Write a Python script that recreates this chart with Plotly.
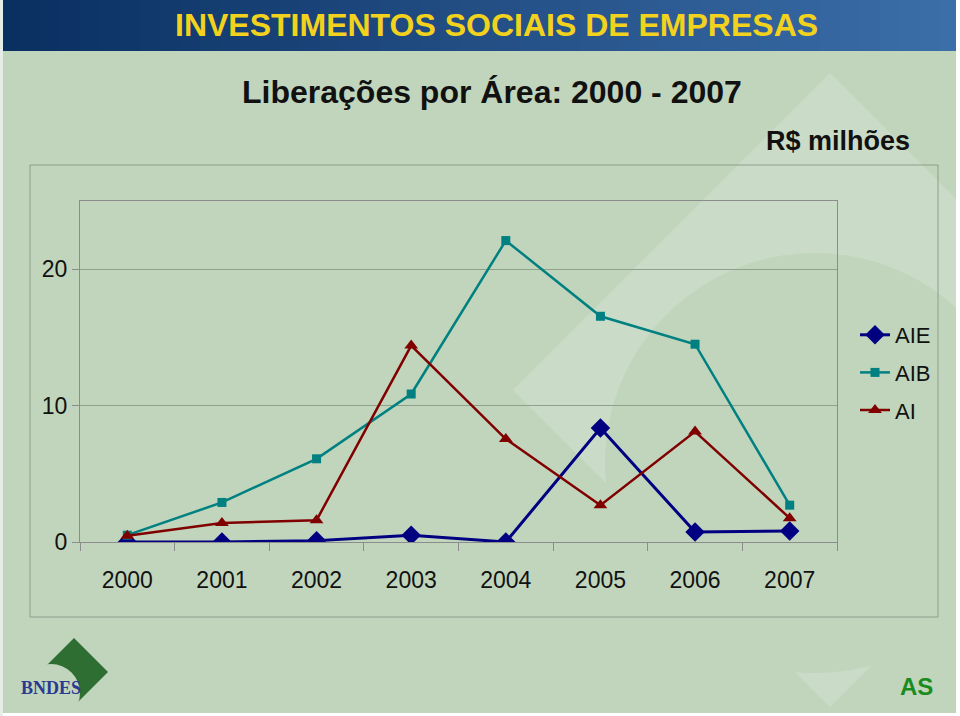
import plotly.graph_objects as go

years = ["2000", "2001", "2002", "2003", "2004", "2005", "2006", "2007"]
aie = [0.0, 0.0, 0.1, 0.5, 0.0, 8.35, 0.73, 0.8]
aib = [0.5, 2.9, 6.1, 10.85, 22.1, 16.55, 14.5, 2.7]
ai = [0.45, 1.4, 1.6, 14.4, 7.55, 2.7, 8.1, 1.75]
y_ticks = [0, 10, 20]

W, H = 960, 716
L, R, T, B = 80, 837, 201, 542  # plot area in pixels
BG = "#c0d5bc"
SANS = "Liberation Sans, Arial, sans-serif"

fig = go.Figure()
fig.add_trace(go.Scatter(x=years, y=aie, name="AIE", mode="lines+markers", legendgroup="a",
                         line=dict(color="#000080", width=3),
                         marker=dict(symbol="diamond", size=15, color="#000080")))
fig.add_trace(go.Scatter(x=years, y=aib, name="AIB", mode="lines+markers", legendgroup="b",
                         line=dict(color="#008080", width=2.5),
                         marker=dict(symbol="square", size=9, color="#008080")))
fig.add_trace(go.Scatter(x=years, y=ai, name="AI", mode="lines+markers", legendgroup="c",
                         line=dict(color="#800000", width=2.5),
                         marker=dict(symbol="triangle-up", size=12, color="#800000")))


def px(x):
    return (x - L) / (R - L)


def py(y):
    return (B - y) / (B - T)


shapes = []
# banner gradient
n = 48
c0 = (10, 48, 98)
c1 = (60, 110, 168)
for i in range(n):
    t = i / (n - 1)
    c = tuple(int(c0[k] + (c1[k] - c0[k]) * t) for k in range(3))
    shapes.append(dict(type="rect", xref="paper", yref="paper",
                       x0=px(W * i / n), x1=px(W * (i + 1) / n + 1), y0=py(51), y1=py(0),
                       fillcolor="rgb(%d,%d,%d)" % c, line=dict(width=0), layer="below"))

# watermark diamond minus circle
cx, cy, r = 830, 390, 317
shapes.append(dict(type="path", xref="paper", yref="paper",
                   path="M %f %f L %f %f L %f %f L %f %f Z" % (
                       px(cx), py(cy - r), px(cx + r), py(cy), px(cx), py(cy + r), px(cx - r), py(cy)),
                   fillcolor="rgba(255,255,255,0.17)", line=dict(width=0), layer="below"))
ccx, ccy, cr = 815, 463, 210
shapes.append(dict(type="circle", xref="paper", yref="paper",
                   x0=px(ccx - cr), x1=px(ccx + cr), y0=py(ccy + cr), y1=py(ccy - cr),
                   fillcolor=BG, line=dict(width=0), layer="below"))
# chart area box
shapes.append(dict(type="rect", xref="paper", yref="paper", x0=px(30), x1=px(938), y0=py(617), y1=py(165),
                   line=dict(color="#8e9e8b", width=1), fillcolor="rgba(0,0,0,0)", layer="below"))
# BNDES logo
lx, ly, lr = 74, 672, 34
shapes.append(dict(type="path", xref="paper", yref="paper",
                   path="M %f %f L %f %f L %f %f L %f %f Z" % (
                       px(lx), py(ly - lr), px(lx + lr), py(ly), px(lx), py(ly + lr), px(lx - lr), py(ly)),
                   fillcolor="#2f6e33", line=dict(width=0), layer="below"))
shapes.append(dict(type="circle", xref="paper", yref="paper",
                   x0=px(51 - 29), x1=px(51 + 29), y0=py(693 + 29), y1=py(693 - 29),
                   fillcolor=BG, line=dict(width=0), layer="below"))
# white slide border strips
shapes.append(dict(type="rect", xref="paper", yref="paper", x0=px(956), x1=px(W), y0=py(H), y1=py(0),
                   fillcolor="white", line=dict(width=0), layer="below"))
shapes.append(dict(type="rect", xref="paper", yref="paper", x0=px(0), x1=px(W), y0=py(H), y1=py(713),
                   fillcolor="white", line=dict(width=0), layer="below"))
shapes.append(dict(type="rect", xref="paper", yref="paper", x0=px(0), x1=px(3), y0=py(H), y1=py(0),
                   fillcolor="#e6ece6", line=dict(width=0), layer="below"))

annotations = [
    dict(text="<b>INVESTIMENTOS SOCIAIS DE EMPRESAS</b>", x=px(497), y=py(25), xref="paper", yref="paper",
         showarrow=False, font=dict(family=SANS, size=32, color="#f2d21c"), xanchor="center", yanchor="middle"),
    dict(text="<b>Liberações por Área: 2000 - 2007</b>", x=px(492), y=py(92), xref="paper", yref="paper",
         showarrow=False, font=dict(family=SANS, size=32, color="#111111"), xanchor="center", yanchor="middle"),
    dict(text="<b>R$ milhões</b>", x=px(912), y=py(141), xref="paper", yref="paper",
         showarrow=False, font=dict(family=SANS, size=27, color="#111111"), xanchor="right", yanchor="middle"),
    dict(text="<b>BNDES</b>", x=px(51), y=py(688), xref="paper", yref="paper",
         showarrow=False, font=dict(family="Liberation Serif, Times New Roman, serif", size=18, color="#2b3990"),
         xanchor="center", yanchor="middle"),
    dict(text="<b>AS</b>", x=px(917), y=py(686), xref="paper", yref="paper",
         showarrow=False, font=dict(family=SANS, size=24, color="#1a8c1f"), xanchor="center", yanchor="middle"),
]

fig.update_layout(
    width=W, height=H,
    margin=dict(l=L, r=W - R, t=T, b=H - B),
    paper_bgcolor=BG, plot_bgcolor="rgba(0,0,0,0)",
    shapes=shapes, annotations=annotations,
    showlegend=True,
    legend=dict(x=px(855), y=py(314), xanchor="left", yanchor="top", bgcolor="rgba(0,0,0,0)",
                font=dict(family=SANS, size=22, color="#111111"), itemwidth=30, tracegroupgap=6),
    xaxis=dict(type="category", range=[-0.5, 7.5], tickson="boundaries", ticks="outside", ticklen=8,
               tickcolor="#8c8c8c", showline=True, linecolor="#8c8c8c", mirror=True, showgrid=False,
               ticklabelstandoff=17,
               tickfont=dict(family=SANS, size=23, color="#111111"), zeroline=False),
    yaxis=dict(range=[0, 25], tickvals=y_ticks, ticks="outside", ticklen=7, tickcolor="#8c8c8c",
               showline=True, linecolor="#8c8c8c", mirror=True, showgrid=True, gridcolor="#8fa08c",
               gridwidth=1, zeroline=False,
               tickfont=dict(family=SANS, size=23, color="#111111")),
)

fig.write_html("out.html")
